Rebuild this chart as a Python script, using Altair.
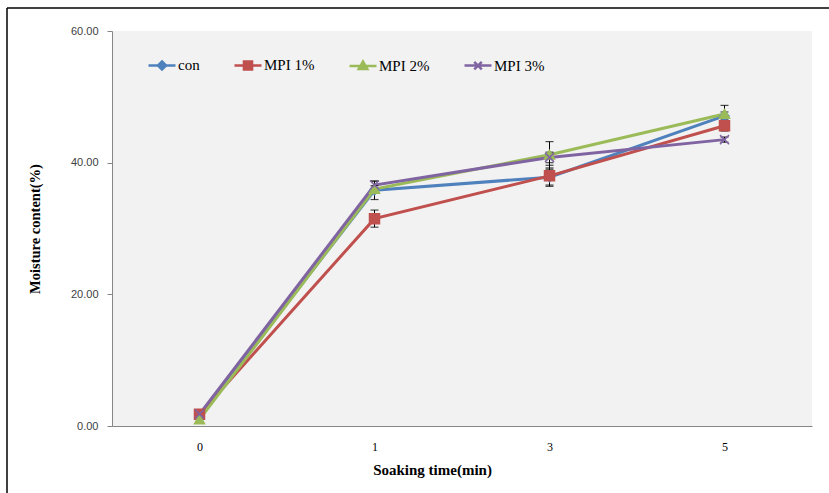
import altair as alt
import pandas as pd

times = [0, 1, 3, 5]
series = ["con", "MPI 1%", "MPI 2%", "MPI 3%"]
con = [1.5, 35.8, 37.8, 47.1]
mpi1 = [1.8, 31.5, 38.0, 45.6]
mpi2 = [1.0, 36.0, 41.2, 47.4]
mpi3 = [1.8, 36.6, 40.8, 43.5]
con_err = [0.3, 1.4, 1.2, 0.6]
mpi1_err = [0.5, 1.3, 1.6, 0.8]
mpi2_err = [0.3, 0.5, 2.0, 1.3]
mpi3_err = [0.3, 0.6, 0.8, 0.4]
colors = ["#4F81BD", "#C0504D", "#9BBB59", "#8064A2"]

rows = []
for name, vals, errs in zip(series, [con, mpi1, mpi2, mpi3],
                            [con_err, mpi1_err, mpi2_err, mpi3_err]):
    for t, v, e in zip(times, vals, errs):
        rows.append({"series": name, "time": t, "value": v,
                     "lo": v - e, "hi": v + e})
df = pd.DataFrame(rows)

xpath = "M-1,-1L1,1M-1,1L1,-1"
marker_shapes = ["diamond", "square", "triangle-up", xpath]
marker_sizes = [80, 100, 100, 81]
legend_paths = [
    "M-1,0H1M0,-0.3L0.3,0L0,0.3L-0.3,0ZM0,-0.12L0.12,0L0,0.12L-0.12,0Z",
    "M-1,0H1M-0.3,-0.3H0.3V0.3H-0.3ZM-0.12,-0.12H0.12V0.12H-0.12Z",
    "M-1,0H1M0,-0.32L0.32,0.24L-0.32,0.24ZM0,-0.1L0.12,0.12L-0.12,0.12Z",
    "M-1,0H1M-0.28,-0.28L0.28,0.28M-0.28,0.28L0.28,-0.28",
]

serif = "Liberation Serif"
sans = "Liberation Sans"

x_axis = alt.Axis(title="Soaking time(min)", labelAngle=0, ticks=False,
                  labelPadding=15, labelFont=serif, labelFontSize=12,
                  labelColor="black", titleFont=serif, titleFontSize=15,
                  titleFontWeight="bold", titleColor="black", titleX=320,
                  titlePadding=10, domainColor="#868686", grid=False)
x_enc = alt.X("time:O", scale=alt.Scale(type="point", padding=0.5), axis=x_axis)
y_scale = alt.Scale(domain=[0, 60], nice=False)
y_axis = alt.Axis(values=[0, 20, 40, 60], format=".2f",
                  title="Moisture content(%)", titleFont=serif,
                  titleFontSize=14.5, titleFontWeight="bold",
                  titleColor="black", titlePadding=28,
                  labelFont=sans, labelFontSize=11, labelColor="#404040",
                  labelPadding=9, domainColor="#868686",
                  tickColor="#868686", tickSize=5, grid=False)
y_enc = alt.Y("value:Q", scale=y_scale, axis=y_axis)
color_scale = alt.Scale(domain=series, range=colors)
color_plain = alt.Color("series:N", scale=color_scale)

base = alt.Chart(df)

leg = alt.Legend(orient="none", legendX=35, legendY=19, direction="horizontal",
                 columns=4, title=None, symbolSize=729, symbolOpacity=1,
                 symbolStrokeWidth=2.5, labelFont=serif, labelFontSize=15,
                 labelColor="black", columnPadding=29, labelOffset=1)

legend_layer = base.mark_point(filled=False, opacity=0, strokeWidth=2.5).encode(
    x=x_enc, y=y_enc,
    color=alt.Color("series:N", scale=color_scale, legend=leg),
    shape=alt.Shape("series:N", scale=alt.Scale(domain=series, range=legend_paths),
                    legend=leg),
)

lines = base.mark_line(strokeWidth=3).encode(x=x_enc, y=y_enc, color=color_plain)

err_rule = base.mark_rule(color="black", strokeWidth=1).encode(
    x=x_enc, y=alt.Y("lo:Q", scale=y_scale, axis=y_axis), y2="hi:Q")
err_lo = base.mark_tick(color="black", thickness=1.2, size=8).encode(
    x=x_enc, y=alt.Y("lo:Q", scale=y_scale, axis=y_axis))
err_hi = base.mark_tick(color="black", thickness=1.2, size=8).encode(
    x=x_enc, y=alt.Y("hi:Q", scale=y_scale, axis=y_axis))

point_layers = []
for name, shp, sz, col in zip(series, marker_shapes, marker_sizes, colors):
    point_layers.append(
        base.transform_filter(alt.datum.series == name)
        .mark_point(filled=True, shape=shp, size=sz, stroke=col, strokeWidth=1.5,
                    opacity=1)
        .encode(x=x_enc, y=y_enc, color=color_plain)
    )

frame_data = alt.Data(values=[{"k": 1}])
top_border = alt.Chart(frame_data).mark_rule(color="black", strokeWidth=1.5).encode(
    x=alt.value(-105), x2=alt.value(717), y=alt.value(-23))
left_border = alt.Chart(frame_data).mark_rule(color="black", strokeWidth=1.5).encode(
    x=alt.value(-105), y=alt.value(-23), y2=alt.value(462))

chart = alt.layer(
    legend_layer, lines, err_rule, err_lo, err_hi, *point_layers,
    top_border, left_border
).properties(
    width=700, height=395,
    autosize=alt.AutoSizeParams(type="none"),
    padding={"left": 112, "top": 31, "right": 17, "bottom": 67},
    background="white",
).configure_view(fill="#f2f2f2", stroke=None)

chart.save("out.html", embed_options={"renderer": "svg", "actions": False})
